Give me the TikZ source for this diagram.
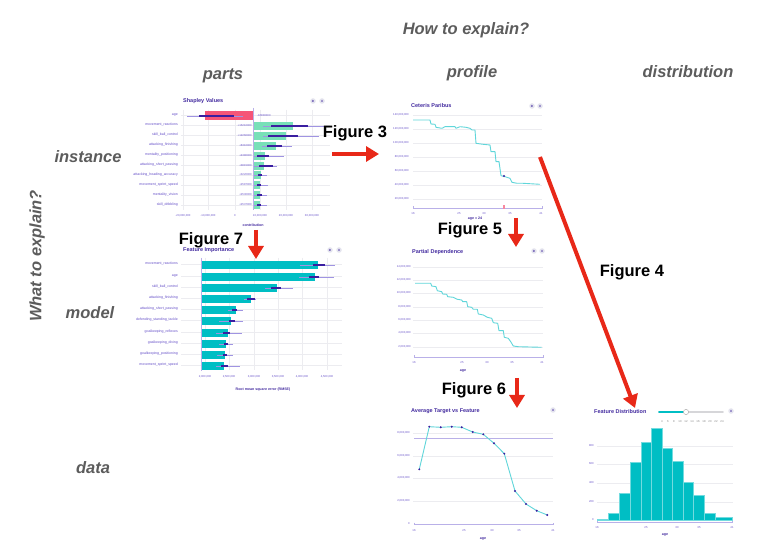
\documentclass[tikz,border=0pt]{standalone}
\usepackage{fontspec}
\setmainfont{Liberation Sans}
\usetikzlibrary{arrows.meta}
\definecolor{headgray}{RGB}{92,92,92}
\definecolor{arrowred}{RGB}{232,40,24}
\definecolor{titlec}{RGB}{68,44,160}
\definecolor{tickc}{RGB}{100,78,200}
\definecolor{gridc}{RGB}{236,236,240}
\definecolor{axisc}{RGB}{185,176,232}
\definecolor{errc}{RGB}{58,30,160}
\definecolor{errthinc}{RGB}{160,148,226}
\definecolor{cyanl}{RGB}{96,214,218}
\definecolor{barc}{RGB}{0,190,196}
\definecolor{shred}{RGB}{245,85,120}
\definecolor{shgreen}{RGB}{120,224,184}
\definecolor{iconc}{RGB}{228,228,238}
\begin{document}
\begin{tikzpicture}[x=1pt,y=-1pt,
  head/.style={font=\fontsize{16.5}{18}\selectfont\bfseries\itshape, text=headgray, inner sep=0},
  fig/.style={font=\fontsize{16.5}{18}\selectfont\bfseries, text=black, inner sep=0},
  redarrow/.style={draw=arrowred, line width=4pt, -{Triangle[length=13pt,width=15pt]}},
  ctitle/.style={font=\fontsize{5.5}{6}\selectfont\bfseries, text=titlec, anchor=west, inner sep=0},
  tck/.style={font=\fontsize{2.8}{3}\selectfont, text=tickc, inner sep=0},
  flabel/.style={font=\fontsize{3.5}{4}\selectfont, text=tickc, anchor=east, inner sep=0},
  atitle/.style={font=\fontsize{3.6}{4}\selectfont\bfseries, text=titlec, inner sep=0},
  gridl/.style={draw=gridc, line width=0.5pt},
  axisl/.style={draw=axisc, line width=0.9pt},
  errthin/.style={draw=errthinc, line width=0.6pt},
  errthick/.style={draw=errc, line width=2pt},
  icon/.style={circle, fill=iconc, inner sep=0, minimum size=5.5pt, font=\fontsize{3}{3}\selectfont\bfseries, text=titlec},
  cline/.style={draw=cyanl, line width=0.9pt, line join=round}
]
\useasboundingbox (0,0) rectangle (764,540);
\fill[white] (0,0) rectangle (764,540);

% ---------- headings ----------
\node[head] (how) at (466,30) {How to explain?};
\node[head] (parts) at (223,76) {parts};
\node[head] (profile) at (472,73) {profile};
\node[head] (distr) at (688,72) {distribution};
\node[head] (inst) at (88,157) {instance};
\node[head] (model) at (90,313) {model};
\node[head] (data) at (93,468) {data};
\node[head, rotate=90] (what) at (37,256) {What to explain?};

% ---------- Shapley Values ----------
\node[ctitle] (shT) at (183,101) {Shapley Values};
\node[icon] (shD) at (313,101) {D};
\node[icon] (shX) at (322,101) {X};
\foreach \x in {183,208,235,260,286,312} \draw[gridl] (\x,110) -- (\x,210);
\foreach \y/\lab [count=\i] in {115/age,125/movement\_reactions,135/skill\_ball\_control,145/attacking\_finishing,155/mentality\_positioning,165/attacking\_short\_passing,175/attacking\_heading\_accuracy,185/movement\_sprint\_speed,195/mentality\_vision,205/skill\_dribbling}{
  \draw[gridl] (181,\y) -- (330,\y);
  \node[flabel] (shL\i) at (178,\y) {\lab};
}
\fill[shred] (205,111.5) rectangle (253,120.5);
\foreach \y/\e in {126/293,136/286,146/276,156/265,166/264,175/261,185/260,195/260,205/260}
  \fill[shgreen] (254,\y-4) rectangle (\e,\y+4);
\draw[draw=axisc, line width=0.6pt] (253.5,108) -- (253.5,210);
\foreach \y/\a/\b/\c/\d in {116/187/199/234/243,126/263/271/308/330,136/263/268/298/319,146/262/267/282/292,156/254/257/269/284,166/254/259/273/277,175/254/258/262/267,185/254/257/261/268,195/254/257/262/267,205/254/257/261/267}{
  \draw[errthin] (\a,\y) -- (\d,\y);
  \draw[errthick] (\b,\y) -- (\c,\y);
}
\node[tck, anchor=west] (shV1) at (257,116) {-16800000};
\foreach \y/\v [count=\i] in {126/+15210000,136/+12260000,146/+6310000,156/+4380000,166/+3815000,175/+3220000,185/+2587000,195/+2530000,205/+2537000}
  \node[tck, anchor=east] (shV\i x) at (252,\y) {\v};
\foreach \x/\v [count=\i] in {183/-20{,}000{,}000,208/-10{,}000{,}000,235/0,260/10{,}000{,}000,286/20{,}000{,}000,312/30{,}000{,}000}
  \node[tck] (shX\i) at (\x,216) {\v};
\node[atitle] (shXT) at (253,225) {contribution};

% ---------- Feature Importance ----------
\node[ctitle] (fiT) at (183,250) {Feature Importance};
\node[icon] (fiD) at (330,250) {D};
\node[icon] (fiX) at (339,250) {X};
\foreach \x in {205,229,254,278,302,327} \draw[gridl] (\x,258) -- (\x,370);
\foreach \y/\lab [count=\i] in {264/movement\_reactions,276/age,287/skill\_ball\_control,298/attacking\_finishing,309/attacking\_short\_passing,320/defending\_standing\_tackle,332/goalkeeping\_reflexes,343/goalkeeping\_diving,354/goalkeeping\_positioning,365/movement\_sprint\_speed}{
  \draw[gridl] (181,\y) -- (342,\y);
  \node[flabel] (fiL\i) at (178,\y) {\lab};
}
\foreach \y/\e in {265/318,277/315,288/277,299/251,310/236,321/231,333/228,344/226,355/225,366/224}
  \fill[barc] (201,\y-4.2) rectangle (\e,\y+4.2);
\draw[draw=axisc, line width=0.6pt] (201,258) -- (201,371);
\foreach \y/\a/\b/\c/\d in {265/300/313/325/335,277/299/309/319/334,288/265/271/281/293,299/244/247/255/256,310/228/232/237/243,321/219/229/235/243,333/216/223/230/242,344/219/224/228/233,355/217/223/227/233,366/216/221/228/240}{
  \draw[errthin] (\a,\y) -- (\d,\y);
  \draw[errthick] (\b,\y) -- (\c,\y);
}
\foreach \x/\v [count=\i] in {205/2{,}000{,}000,229/2{,}500{,}000,254/3{,}000{,}000,278/3{,}500{,}000,302/4{,}000{,}000,327/4{,}500{,}000}
  \node[tck] (fiXl\i) at (\x,377) {\v};
\node[atitle] (fiXT) at (263,390) {Root mean square error (RMSE)};

% ---------- Ceteris Paribus ----------
\node[ctitle] (cpT) at (411,106) {Ceteris Paribus};
\node[icon] (cpD) at (532,106) {D};
\node[icon] (cpX) at (540,106) {X};
\foreach \y/\v [count=\i] in {115/140{,}000{,}000,129/120{,}000{,}000,143/100{,}000{,}000,157/80{,}000{,}000,171/60{,}000{,}000,185/40{,}000{,}000,199/20{,}000{,}000}{
  \draw[gridl] (413,\y) -- (542,\y);
  \node[tck, anchor=east] (cpY\i) at (409,\y) {\v};
}
\draw[axisl] (413,206.5) -- (413,208) -- (542,208) -- (542,206.5);
\fill[shred!70] (503.3,205.5) rectangle (504.7,209.5);
\foreach \x/\v [count=\i] in {413/16,459/25,484/30,510/35,541/41}
  \node[tck] (cpXl\i) at (\x,213.5) {\v};
\node[atitle] (cpXT) at (475,219) {age = 24};
\draw[cline] (413,120) -- (430,120) -- (431,124) -- (435,124.3) -- (436,127.3) -- (442,128.3) -- (445,126.7) -- (455,126.7) -- (456,128.3) -- (460,126.7) -- (466,127.3) -- (470,128.3) -- (472,130) -- (475,130) -- (476,143.3) -- (483,144.3) -- (490,145) -- (491,151.7) -- (495,151.7) -- (496,161.7) -- (499,161.7) -- (501,175.7) -- (505,176.7) -- (510,178.3) -- (512,182.3) -- (517,183.3) -- (523,183.3) -- (540,184.3);
\fill[errc] (504,176) circle (1.1);

% ---------- Partial Dependence ----------
\node[ctitle] (pdT) at (412,252) {Partial Dependence};
\node[icon] (pdD) at (534,251) {D};
\node[icon] (pdX) at (542,251) {X};
\foreach \y/\v [count=\i] in {267/14{,}000{,}000,280/12{,}000{,}000,293/10{,}000{,}000,307/8{,}000{,}000,320/6{,}000{,}000,333/4{,}000{,}000,347/2{,}000{,}000}{
  \draw[gridl] (413,\y) -- (543,\y);
  \node[tck, anchor=east] (pdY\i) at (411,\y) {\v};
}
\draw[axisl] (414,355.5) -- (414,357) -- (543,357) -- (543,355.5);
\foreach \x/\v [count=\i] in {414/16,462/25,487/30,512/35,542/41}
  \node[tck] (pdXl\i) at (\x,363) {\v};
\node[atitle] (pdXT) at (463,371) {age};
\draw[cline] (415,283.3) -- (430.7,283.3) -- (431.7,286) -- (436,286.7) -- (437.3,290.7) -- (441.7,291.7) -- (442.7,294) -- (446.7,294.3) -- (447.7,296.7) -- (453.3,297.3) -- (457.3,299.3) -- (461.7,300) -- (462.7,301.7) -- (466.7,301.7) -- (467.7,306.7) -- (471.7,307.3) -- (473.3,309.3) -- (477.3,309.3) -- (478.3,314) -- (483.3,315) -- (487.3,317.3) -- (491.7,318.3) -- (493.3,322.7) -- (497.7,323.3) -- (499,330.7) -- (503.3,330.7) -- (504.3,337.3) -- (508.3,338.3) -- (510.7,341.7) -- (513.3,346) -- (518.3,346.7) -- (541.7,347.3);

% ---------- Average Target vs Feature ----------
\node[ctitle] (atT) at (411,411) {Average Target vs Feature};
\node[icon] (atX) at (553,410) {X};
\foreach \y/\v [count=\i] in {433/8{,}000{,}000,456/6{,}000{,}000,478/4{,}000{,}000,501/2{,}000{,}000}{
  \draw[gridl] (413,\y) -- (553,\y);
  \node[tck, anchor=east] (atY\i) at (410,\y) {\v};
}
\node[tck, anchor=east] (atY5) at (410,524) {0};
\draw[draw=axisc, line width=0.7pt] (414,438.3) -- (553,438.3);
\draw[axisl] (414,522.5) -- (414,524) -- (553,524) -- (553,522.5);
\foreach \x/\v [count=\i] in {414/16,464/25,492/30,519/35,553/41}
  \node[tck] (atXl\i) at (\x,531) {\v};
\node[atitle] (atXT) at (483,539) {age};
\draw[cline] (419.3,469.3) -- (429.3,426.7) -- (440.7,427.3) -- (451.7,426.7) -- (461.7,427.3) -- (472.7,432) -- (483.3,434.3) -- (494,443.3) -- (504.3,453.7) -- (515,491) -- (526,504) -- (536.7,510.7) -- (547.3,515);
\foreach \p in {(419.3,469.3),(429.3,426.7),(440.7,427.3),(451.7,426.7),(461.7,427.3),(472.7,432),(483.3,434.3),(494,443.3),(504.3,453.7),(515,491),(526,504),(536.7,510.7),(547.3,515)}
  \fill[errc] \p circle (1.1);

% ---------- Feature Distribution ----------
\node[ctitle] (fdT) at (594,412) {Feature Distribution};
\node[icon] (fdX) at (731,411) {X};
\draw[draw=gridc!80!gray, line width=1.6pt, line cap=round] (659,412) -- (723,412);
\draw[draw=barc, line width=1.6pt, line cap=round] (659,412) -- (686,412);
\draw[fill=white, draw=gray!60, line width=0.5pt] (686,412) circle (2.6);
\foreach \x/\v [count=\i] in {662/4,668/6,674/8,680/10,686/12,692/14,698/16,704/18,710/20,716/22,722/24}
  \node[tck, text=gray] (fdS\i) at (\x,422) {\v};
\foreach \y/\v [count=\i] in {446/800,464/600,483/400,502/200}{
  \draw[gridl] (597,\y) -- (733,\y);
  \node[tck, anchor=east] (fdY\i) at (594,\y) {\v};
}
\node[tck, anchor=east] (fdY5) at (594,520) {0};
\foreach \a/\b/\t in {597.3/608.3/519.3,608.3/619.3/513.3,619.3/630/493.3,630/640.7/461.7,640.7/651/441.7,651/661.7/427.7,661.7/672.3/447.7,672.3/682.7/461,682.7/693.3/481.7,693.3/704.3/495,704.3/715/513.3,715/731.7/517}
  \filldraw[fill=barc, draw=barc!55!white, line width=0.4pt] (\a,520.5) rectangle (\b,\t);
\draw[axisl] (597,521) -- (597,522.7) -- (732,522.7) -- (732,521);
\foreach \x/\v [count=\i] in {597/16,646/25,677/30,699/35,732/41}
  \node[tck] (fdXl\i) at (\x,528) {\v};
\node[atitle] (fdXT) at (665,535) {age};

% ---------- figure labels and arrows ----------
\node[fig] (f3) at (355,133) {Figure 3};
\node[fig] (f7) at (211,240) {Figure 7};
\node[fig] (f5) at (470,230) {Figure 5};
\node[fig] (f4) at (632,272) {Figure 4};
\node[fig] (f6) at (474,390) {Figure 6};
\coordinate (a3s) at (332,154); \coordinate (a3e) at (379,154);
\coordinate (a7s) at (256,230); \coordinate (a7e) at (256,259);
\coordinate (a5s) at (516,218); \coordinate (a5e) at (516,247);
\coordinate (a4s) at (540,157); \coordinate (a4e) at (635,408);
\coordinate (a6s) at (517,378); \coordinate (a6e) at (517,408);
\draw[redarrow] (a3s) -- (a3e);
\draw[redarrow] (a7s) -- (a7e);
\draw[redarrow] (a5s) -- (a5e);
\draw[redarrow] (a4s) -- (a4e);
\draw[redarrow] (a6s) -- (a6e);
\end{tikzpicture}
\end{document}
